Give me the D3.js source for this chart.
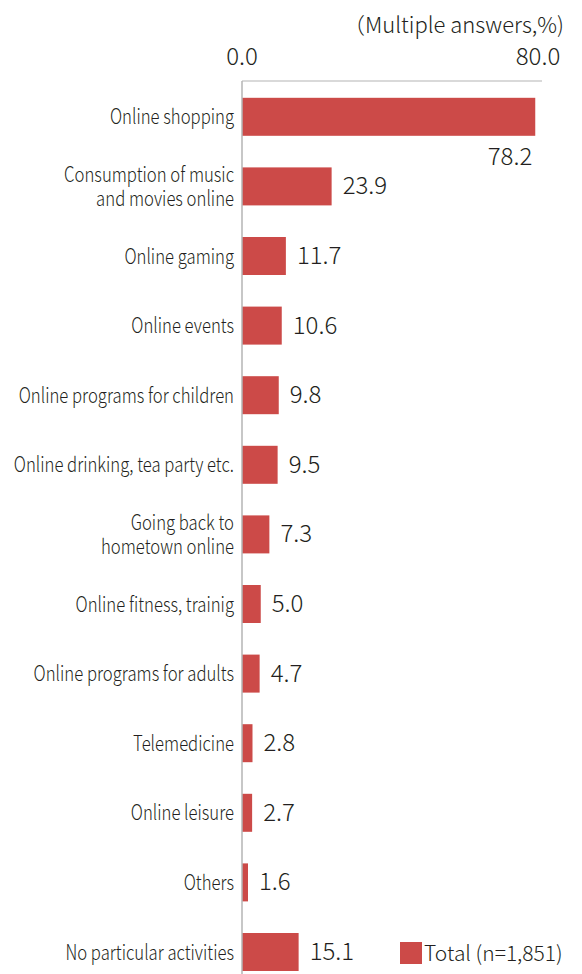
<!DOCTYPE html>
<html>
<head>
<meta charset="utf-8">
<script src="https://cdn.jsdelivr.net/npm/d3@7"></script>
<style>
  body { margin: 0; background: #fff; }
  svg text { font-family: "Noto Sans CJK JP", "Noto Sans", sans-serif; font-weight: 300; fill: #231f20; }
</style>
</head>
<body>
<svg id="chart"></svg>
<script>
const categories = [
  'Online shopping',
  'Consumption of music\nand movies online',
  'Online gaming',
  'Online events',
  'Online programs for children',
  'Online drinking, tea party etc.',
  'Going back to\nhometown online',
  'Online fitness, trainig',
  'Online programs for adults',
  'Telemedicine',
  'Online leisure',
  'Others',
  'No particular activities'
];
const values = [78.2, 23.9, 11.7, 10.6, 9.8, 9.5, 7.3, 5.0, 4.7, 2.8, 2.7, 1.6, 15.1];
const tickValues = [0, 80];
const unitLabel = '（Multiple answers,%)';
const legendLabel = 'Total (n=1,851)';

const width = 582;
const height = 974;
const margin = {top: 82, left: 242};
const plotW = 300;
const step = 69.6;

const svg = d3.select('#chart')
.attr('width', width)
.attr('height', height);

const x = d3.scaleLinear()
.domain([0, 80])
.range([margin.left, margin.left + plotW]);

const y = d3.scaleBand()
.domain(categories)
.range([margin.top, margin.top + step * categories.length])
.paddingInner(0.454)
.paddingOuter(0.227);

// top axis: only a line and the two end labels
svg.append('line')
.attr('x1', x(0)).attr('x2', x(80))
.attr('y1', margin.top - 1).attr('y2', margin.top - 1)
.attr('stroke', '#b4b4b4').attr('stroke-width', 1.2);

svg.selectAll('.tick-label')
.data(tickValues)
.enter()
.append('text')
.attr('class', 'tick-label')
.attr('x', d => d === 80 ? x(d) - 4 : x(d))
.attr('y', 65)
.attr('text-anchor', 'middle')
.style('font-size', '24px')
.text(d => d3.format('.1f')(d));

svg.append('text')
.attr('x', 564)
.attr('y', 33)
.attr('text-anchor', 'end')
.style('font-size', '22px')
.text(unitLabel);

svg.append('g')
.selectAll('rect')
.data(values)
.enter()
.append('rect')
.attr('x', x(0))
.attr('y', (d, i) => y(categories[i]))
.attr('width', d => x(d) - x(0))
.attr('height', y.bandwidth())
.attr('fill', '#cc4a48');

// vertical axis line over the bars
svg.append('line')
.attr('x1', x(0)).attr('x2', x(0))
.attr('y1', margin.top - 1).attr('y2', height)
.attr('stroke', '#b4b4b4').attr('stroke-width', 1.5);

// category labels (condensed look)
const labels = svg.append('g')
.selectAll('text')
.data(categories)
.enter()
.append('text')
.attr('text-anchor', 'end')
.style('font-size', '21px')
.attr('transform', d => `translate(${x(0) - 8}, ${y(d) + y.bandwidth() / 2}) scale(0.795, 1)`);

labels.each(function(d) {
  const lines = d.split('\n');
  const t = d3.select(this);
  lines.forEach((ln, j) => {
    t.append('tspan')
    .attr('x', 0)
    .attr('y', (j - (lines.length - 1) / 2) * 23.5 + 7.5)
    .text(ln);
  });
});

// value labels
svg.append('g')
.selectAll('text')
.data(values)
.enter()
.append('text')
.attr('x', d => d > 70 ? x(d) - 3 : x(d) + 11)
.attr('y', (d, i) => d > 70 ? y(categories[i]) + y.bandwidth() + 29 : y(categories[i]) + y.bandwidth() / 2 + 8)
.attr('text-anchor', d => d > 70 ? 'end' : 'start')
.style('font-size', '24px')
.text(d => d3.format('.1f')(d));

// legend
svg.append('rect')
.attr('x', 400).attr('y', 942)
.attr('width', 22).attr('height', 22)
.attr('fill', '#cc4a48');

svg.append('text')
.attr('x', 424)
.attr('y', 961)
.style('font-size', '21px')
.text(legendLabel);
</script>
</body>
</html>
